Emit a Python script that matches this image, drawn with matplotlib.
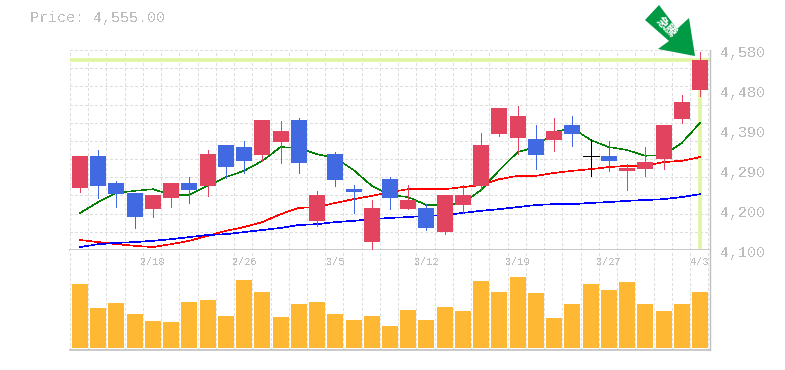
import numpy as np
import matplotlib
matplotlib.use('Agg')
import matplotlib.pyplot as plt
from matplotlib.patches import Polygon

# daily prices
opens = [4249, 4326, 4261, 4237, 4198, 4225, 4261, 4254, 4352, 4347, 4328, 4359, 4412, 4170, 4330, 4246, 4119, 4270,
         4198, 4201, 4143, 4208, 4254, 4378, 4369, 4366, 4364, 4400, 4326, 4326, 4290, 4294, 4318, 4414, 4484]
highs = [4326, 4340, 4266, 4237, 4232, 4261, 4275, 4340, 4352, 4362, 4412, 4410, 4417, 4242, 4335, 4256, 4220, 4275,
         4256, 4210, 4232, 4256, 4381, 4441, 4446, 4400, 4417, 4422, 4366, 4362, 4306, 4347, 4400, 4472, 4575]
lows = [4239, 4225, 4203, 4153, 4179, 4203, 4213, 4230, 4273, 4285, 4314, 4309, 4285, 4158, 4254, 4189, 4098, 4198,
        4198, 4148, 4138, 4189, 4244, 4374, 4330, 4294, 4338, 4350, 4278, 4290, 4244, 4278, 4294, 4405, 4470]
closes = [4326, 4254, 4234, 4179, 4232, 4261, 4244, 4330, 4299, 4314, 4412, 4386, 4309, 4232, 4268, 4239, 4201, 4225,
          4220, 4153, 4232, 4232, 4352, 4441, 4422, 4328, 4386, 4378, 4326, 4314, 4297, 4311, 4400, 4455, 4555]
volumes = [64.3, 40.3, 45.3, 34.3, 27.3, 26.3, 46.3, 48.3, 32.3, 68.3, 56.3, 31.3, 44.3, 46.3, 34.3, 28.3, 32.3, 22.3,
           38.3, 28.3, 41.3, 37.3, 67.3, 56.3, 71.3, 55.3, 30.3, 44.3, 64.3, 58.3, 66.3, 44.3, 37.3, 44.3, 56.3]

# moving averages
ma_short = [4189, 4215, 4237, 4242, 4246, 4232, 4232, 4254, 4275, 4290, 4314, 4347, 4345, 4330, 4321, 4292, 4254, 4232,
            4227, 4208, 4208, 4213, 4244, 4292, 4335, 4347, 4383, 4393, 4364, 4347, 4340, 4326, 4328, 4357, 4405]
ma_mid = [4124, 4119, 4114, 4110, 4107, 4114, 4122, 4134, 4146, 4155, 4167, 4186, 4201, 4203, 4213, 4222, 4230, 4239,
          4246, 4246, 4246, 4251, 4256, 4270, 4278, 4278, 4285, 4290, 4294, 4299, 4302, 4302, 4311, 4314, 4323]
ma_long = [4107, 4114, 4117, 4119, 4122, 4126, 4131, 4136, 4138, 4143, 4148, 4153, 4160, 4162, 4167, 4170, 4174, 4177,
           4179, 4182, 4184, 4189, 4194, 4198, 4203, 4208, 4210, 4210, 4213, 4215, 4218, 4220, 4222, 4227, 4234]

price_ticks = [4100, 4196, 4292, 4388, 4484, 4580]
price_labels = ['4,100', '4,200', '4,290', '4,390', '4,480', '4,580']
date_pos = [4, 9, 14, 19, 24, 29, 34]
date_labels = ['2/18', '2/26', '3/5', '3/12', '3/19', '3/27', '4/3']
last_price = 4555

W, H = 785, 370
RED, BLUE = '#e2435f', '#4169e1'
GRID = '#dedede'
LINE = '#c0c0c0'
TEXT = '#bdbdbd'
HILITE = '#e0f5a0'
MONO = 'Liberation Mono'
PX = 0.72  # one pixel in points at dpi 100

fig = plt.figure(figsize=(W / 100, H / 100), dpi=100)
ax = fig.add_axes([70 / W, (H - 250) / H, 640 / W, 200 / H])
ax_v = fig.add_axes([70 / W, (H - 350) / H, 640 / W, 100 / H])

x = np.arange(len(closes))
xlim = (-0.548, 34.548)
grid_x = np.arange(36) - 0.55
dash = (0, (2.5, 2.5))

# grid
for a in (ax, ax_v):
    a.set_xlim(xlim)
    a.set_xticks([])
    a.set_yticks([])
    a.vlines(grid_x, 0, 1, transform=a.get_xaxis_transform(), color=GRID, lw=PX, ls=dash, antialiased=False,
             zorder=1, clip_on=False)
    for s in a.spines.values():
        s.set_visible(False)
    a.spines['right'].set_visible(True)
    a.spines['right'].set_color(LINE)
    a.spines['right'].set_linewidth(1.0)
    a.spines['bottom'].set_visible(True)
    a.spines['bottom'].set_color(LINE)
    a.spines['bottom'].set_linewidth(1.2)

ax.set_ylim(4100, 4580)
ax.hlines(np.linspace(4100, 4580, 12)[1:], xlim[0], xlim[1], color=GRID, lw=PX, ls=dash, antialiased=False, zorder=1)

# current price marker
ax.hlines(last_price, xlim[0], xlim[1], color=HILITE, lw=2.6, zorder=2)
ax.vlines(x[-1], 4103, last_price, color=HILITE, lw=2.6, zorder=2)

# moving averages sit behind the candles
ax.plot(x, ma_short, color='#008000', lw=0.35, antialiased=False, zorder=3)
ax.plot(x, ma_mid, color='#ff0000', lw=0.45, antialiased=False, zorder=3)
ax.plot(x, ma_long, color='#0000ff', lw=0.45, antialiased=False, zorder=3)

# candles
for i in x:
    o, h, l, c = opens[i], highs[i], lows[i], closes[i]
    col = RED if c > o else BLUE if c < o else 'black'
    ax.vlines(i, l, h, color=col, lw=PX, antialiased=False, zorder=4, clip_on=False)
    if c == o:
        ax.hlines(c, i - 0.44, i + 0.44, color=col, lw=PX, antialiased=False, zorder=4)
    else:
        ax.bar(i, abs(c - o), bottom=min(o, c), width=0.877, color=col, antialiased=False, zorder=5)

for p, lab in zip(price_ticks, price_labels):
    ax.annotate(lab, (1, p), xycoords=('axes fraction', 'data'), xytext=(10, -3), textcoords='offset pixels',
                ha='left', va='center', family=MONO, fontsize=10.8, color=TEXT, annotation_clip=False,
                antialiased=False)

# volume
ax_v.set_ylim(-2, 98)
ax_v.bar(x, volumes, width=0.877, color='#ffb833', antialiased=False, zorder=3)
for d, lab in zip(date_pos, date_labels):
    ax_v.annotate(lab, (d, 1), xycoords=('data', 'axes fraction'), xytext=(0, -12), textcoords='offset pixels',
                  ha='center', va='center', family=MONO, fontsize=7.4, color=TEXT, annotation_clip=False,
                  antialiased=False)

fig.text(30 / W, 1 - 18 / H, f'Price: {last_price:,.2f}', family=MONO, fontsize=10.8, color=TEXT, ha='left',
         va='center', antialiased=False)

# the green arrow
arrow_px = [(659, 5), (645, 20), (669, 41), (658, 49), (695, 56), (689, 18), (677, 29)]
fig.add_artist(Polygon([(a / W, 1 - b / H) for a, b in arrow_px], closed=True, transform=fig.transFigure,
                       facecolor='#009a44', edgecolor='none', zorder=10))
fig.text(666.5 / W, 1 - 27.5 / H, '急騰', family=['Noto Sans CJK JP', 'DejaVu Sans'], fontsize=8.5, fontweight='bold',
         color='white', rotation=-45, ha='center', va='center', zorder=11)

fig.savefig('out.png', dpi=100)
